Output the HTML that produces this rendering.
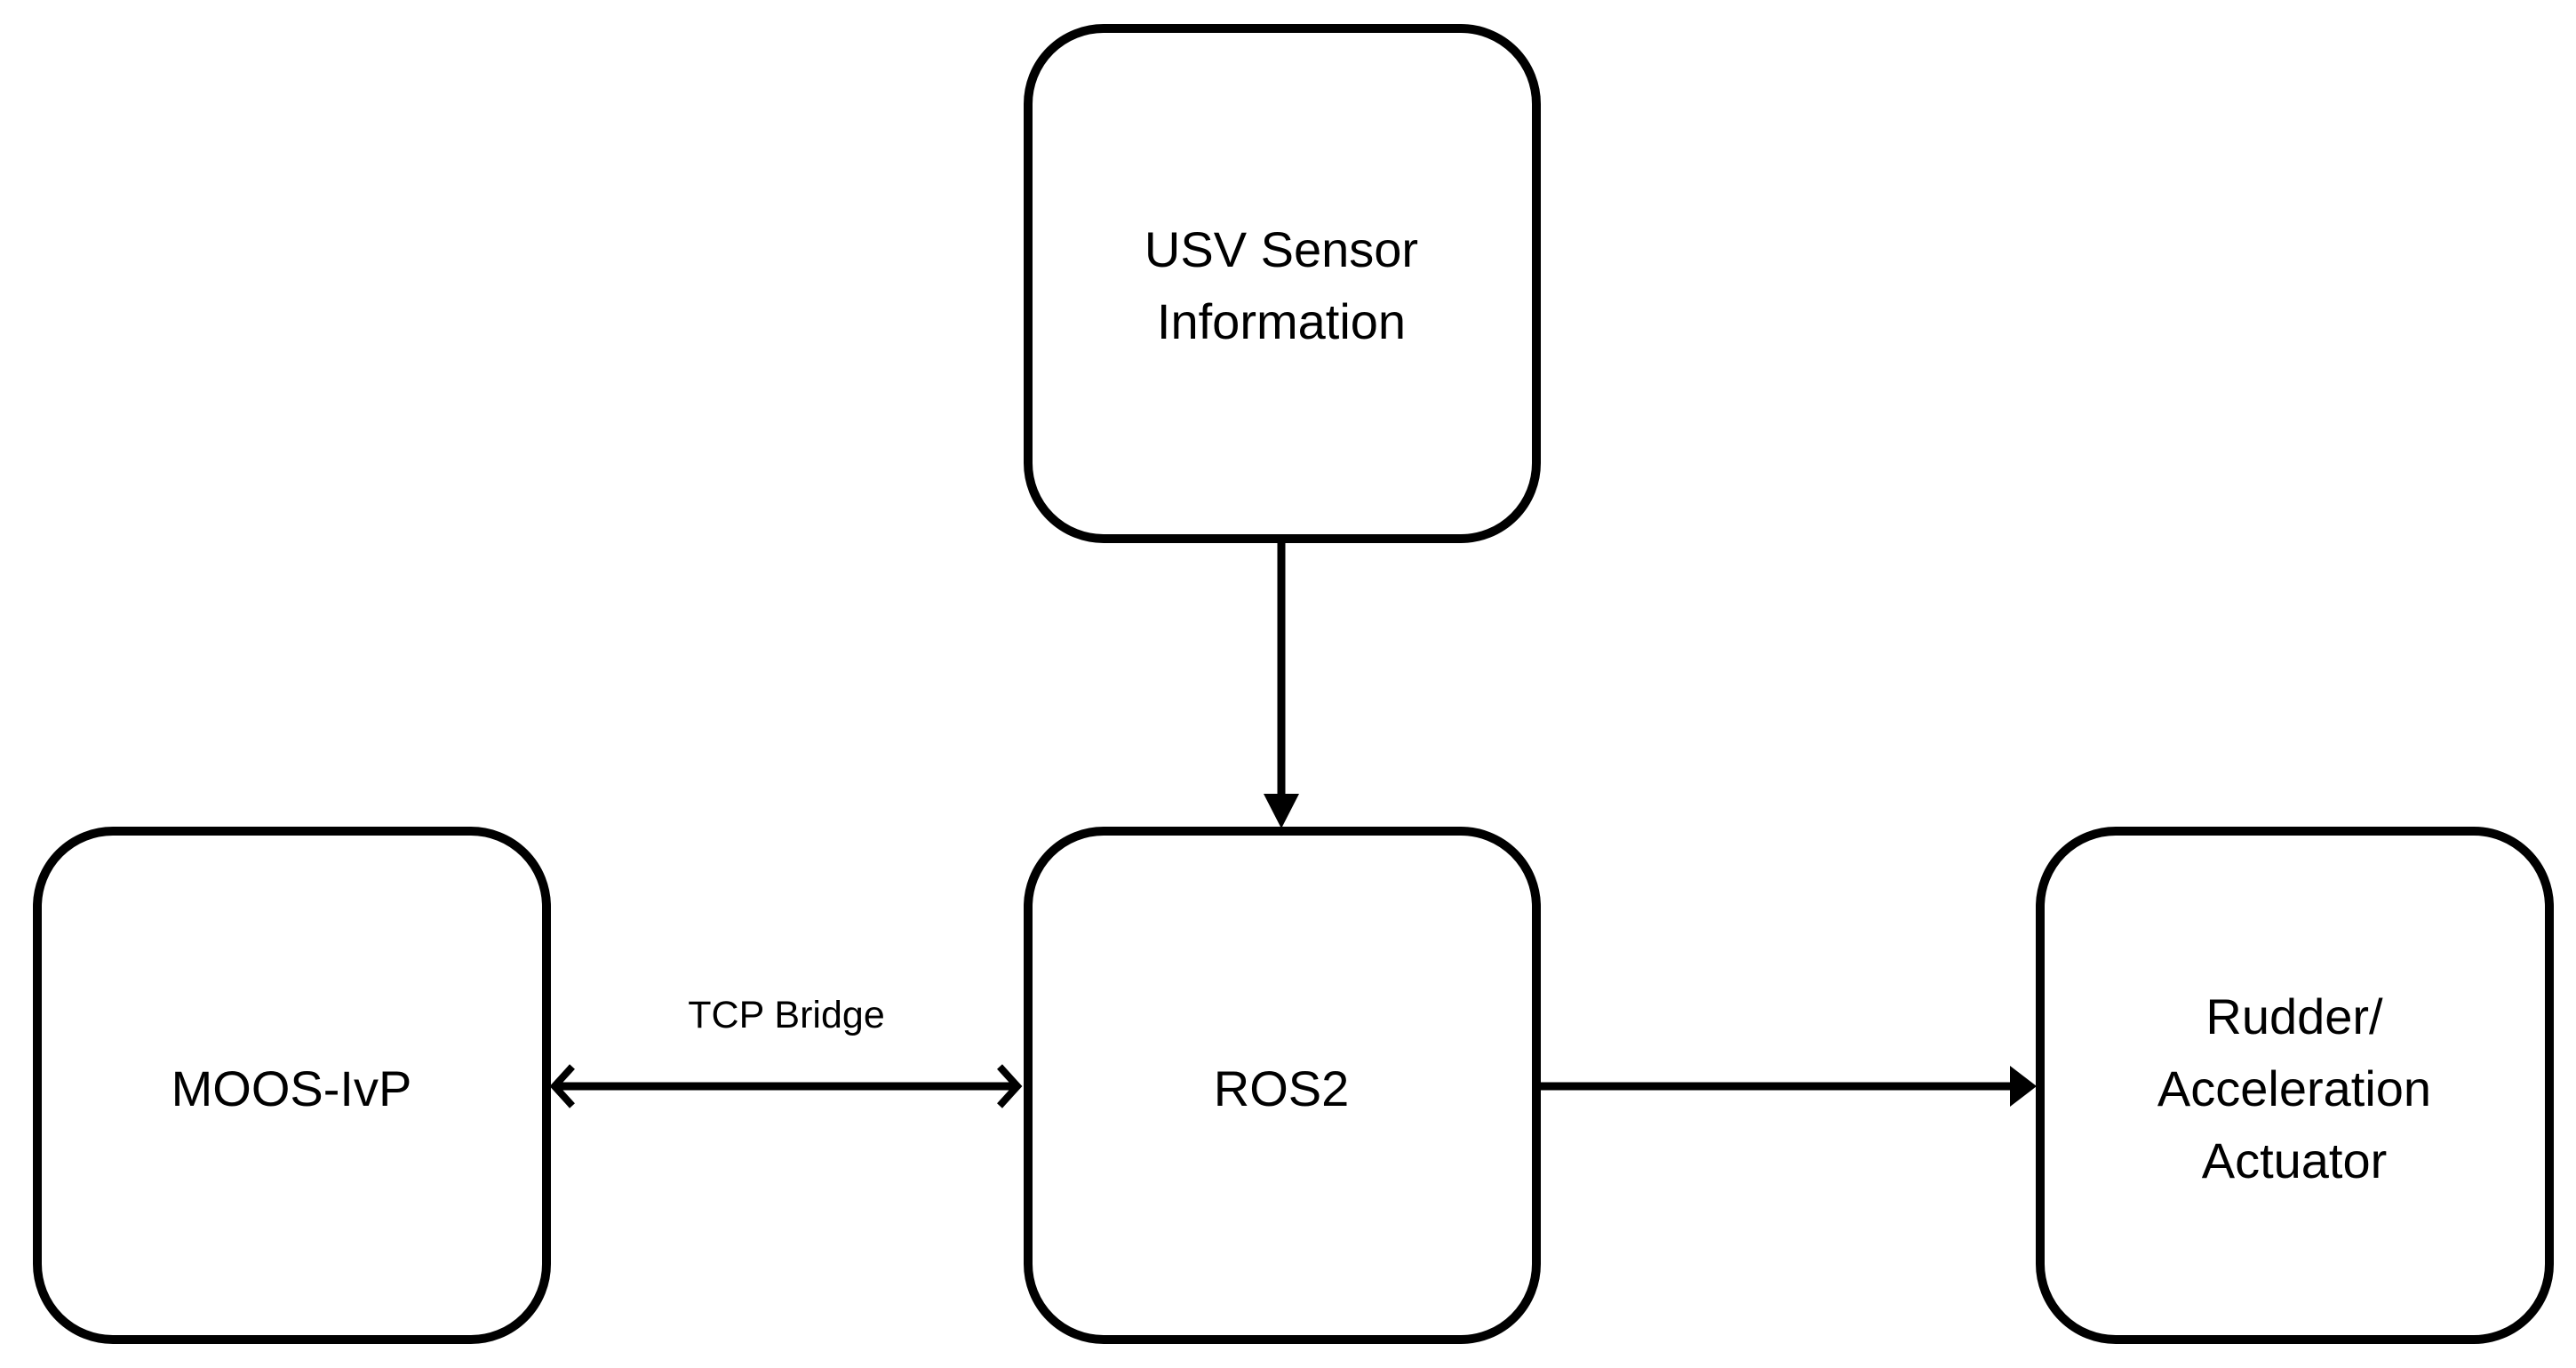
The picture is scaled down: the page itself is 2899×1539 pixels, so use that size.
<!DOCTYPE html>
<html><head><meta charset="utf-8"><style>
html,body{margin:0;padding:0;background:#fff;}
svg{display:block;}
text{font-family:"Liberation Sans","DejaVu Sans",sans-serif;fill:#000;}
</style></head><body>
<svg width="2899" height="1539" viewBox="0 0 2899 1539" xmlns="http://www.w3.org/2000/svg">
<g fill="#fff" stroke="#000" stroke-width="10">
<rect x="1157" y="32" width="572" height="574" rx="85" ry="85"/>
<rect x="42" y="935" width="573" height="572" rx="85" ry="85"/>
<rect x="1157" y="935" width="572" height="572" rx="85" ry="85"/>
<rect x="2296" y="935" width="573" height="572" rx="85" ry="85"/>
</g>
<g stroke="#000" stroke-width="9" fill="none">
<line x1="1442" y1="608" x2="1442" y2="900"/>
<line x1="625" y1="1222" x2="1140" y2="1222"/>
<line x1="1734" y1="1222" x2="2265" y2="1222"/>
<polyline points="644,1200 624,1222 644,1244" stroke-width="8"/>
<polyline points="1125,1200 1145,1222 1125,1244" stroke-width="8"/>
</g>
<polygon points="1422,893 1462,893 1442,932" fill="#000"/>
<polygon points="2262,1199 2292,1222 2262,1245" fill="#000"/>
<g font-size="56" text-anchor="middle">
<text x="1442" y="300">USV Sensor</text>
<text x="1442" y="381">Information</text>
<text x="328" y="1244">MOOS-IvP</text>
<text x="1442" y="1244">ROS2</text>
<text x="2582" y="1163">Rudder/</text>
<text x="2582" y="1244">Acceleration</text>
<text x="2582" y="1325">Actuator</text>
</g>
<text x="885" y="1156" font-size="43" text-anchor="middle">TCP Bridge</text>
</svg>
</body></html>
